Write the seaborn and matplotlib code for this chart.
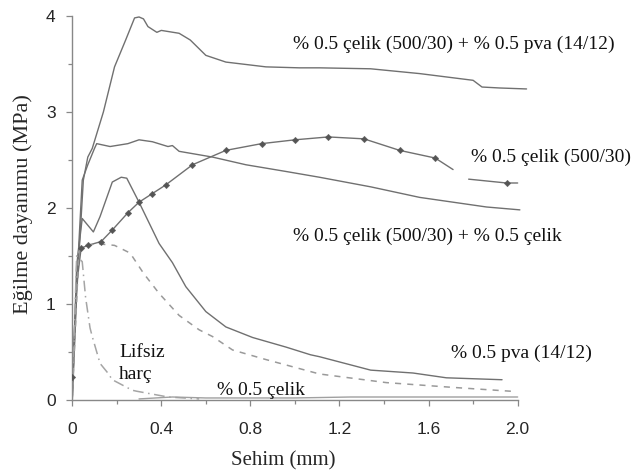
import matplotlib
matplotlib.use("Agg")
import matplotlib.pyplot as plt
import numpy as np
import pandas as pd
import seaborn as sns
from matplotlib.ticker import MultipleLocator

# --- curve data (x: Sehim mm, y: MPa) ---
pva_celik_x = [0.0, 0.02, 0.036, 0.05, 0.07, 0.09, 0.14, 0.19, 0.24, 0.28, 0.30, 0.32,
               0.34, 0.38, 0.40, 0.48, 0.53, 0.60, 0.69, 0.87, 1.02, 1.11, 1.34, 1.56,
               1.80, 1.84, 1.92, 2.04]
pva_celik_y = [0.0, 1.1, 1.74, 2.29, 2.53, 2.62, 3.0, 3.47, 3.75, 3.98, 3.99, 3.97,
               3.89, 3.83, 3.85, 3.82, 3.75, 3.59, 3.52, 3.47, 3.46, 3.46, 3.45, 3.40,
               3.33, 3.26, 3.25, 3.24]

celik500_x = [0.0, 0.02, 0.045, 0.07, 0.1, 0.11, 0.17, 0.25, 0.30, 0.36, 0.43, 0.45,
              0.48, 0.63, 0.78, 0.96, 1.11, 1.34, 1.56, 1.86, 2.01]
celik500_y = [0.0, 1.2, 2.29, 2.45, 2.62, 2.67, 2.64, 2.67, 2.71, 2.69, 2.64, 2.65,
              2.59, 2.53, 2.45, 2.38, 2.32, 2.22, 2.11, 2.01, 1.98]

# marked curve (line has a small gap near x = 1.75)
mark_line_x = [0.0, 0.02, 0.04, 0.07, 0.13, 0.18, 0.25, 0.30, 0.36, 0.42, 0.54, 0.69,
               0.85, 1.0, 1.15, 1.31, 1.47, 1.63, 1.71, 1.78, 1.95, 2.0]
mark_line_y = [0.24, 1.2, 1.58, 1.61, 1.65, 1.77, 1.95, 2.06, 2.15, 2.24, 2.45, 2.6,
               2.67, 2.71, 2.74, 2.72, 2.6, 2.52, 2.4, 2.30, 2.26, 2.26]
mark_line_seg = [0] * 19 + [1] * 3
mark_x = [0.0, 0.04, 0.07, 0.13, 0.18, 0.25, 0.30, 0.36, 0.42, 0.54, 0.69, 0.85, 1.0,
          1.15, 1.31, 1.47, 1.63, 1.95]
mark_y = [0.24, 1.58, 1.61, 1.65, 1.77, 1.95, 2.06, 2.15, 2.24, 2.45, 2.6, 2.67, 2.71,
          2.74, 2.72, 2.6, 2.52, 2.26]

pva_x = [0.0, 0.02, 0.045, 0.095, 0.125, 0.18, 0.22, 0.245, 0.30, 0.39, 0.45, 0.51,
         0.60, 0.69, 0.81, 0.96, 1.07, 1.11, 1.34, 1.53, 1.68, 1.93]
pva_y = [0.0, 1.4, 1.89, 1.75, 1.91, 2.27, 2.32, 2.31, 2.06, 1.63, 1.43, 1.18,
         0.92, 0.76, 0.65, 0.55, 0.47, 0.45, 0.31, 0.28, 0.23, 0.21]

celik_celik_x = [0.0, 0.03, 0.1, 0.19, 0.26, 0.32, 0.39, 0.48, 0.57, 0.63, 0.72, 0.87,
                 1.11, 1.41, 1.71, 1.97]
celik_celik_y = [0.0, 1.55, 1.63, 1.61, 1.53, 1.32, 1.11, 0.88, 0.73, 0.66, 0.52, 0.42,
                 0.27, 0.18, 0.13, 0.09]

lifsiz_x = [0.0, 0.02, 0.045, 0.06, 0.08, 0.09, 0.125, 0.16, 0.18, 0.27, 0.29, 0.43, 0.57]
lifsiz_y = [0.0, 1.5, 1.44, 1.07, 0.75, 0.66, 0.38, 0.28, 0.21, 0.10, 0.09, 0.03, 0.01]

celik_x = [0.30, 0.45, 0.60, 0.80, 1.0, 1.25, 1.5, 1.75, 2.0]
celik_y = [0.01, 0.03, 0.02, 0.02, 0.02, 0.03, 0.03, 0.03, 0.03]

x_ticks = [0, 0.4, 0.8, 1.2, 1.6, 2.0]
x_tick_labels = ["0", "0.4", "0.8", "1.2", "1.6", "2.0"]
y_ticks = [0, 1, 2, 3, 4]

sns.set_style("white")
plt.rcParams["font.family"] = ["Liberation Serif", "DejaVu Serif"]

fig = plt.figure(figsize=(6.39, 4.71), dpi=100)
ax = fig.add_axes([0.113, 0.151, 0.718, 0.815])

line_col = "#707070"
dash_col = "#9a9a9a"

sns.lineplot(x=pva_celik_x, y=pva_celik_y, ax=ax, color=line_col, lw=1.0, sort=False)
sns.lineplot(x=celik500_x, y=celik500_y, ax=ax, color=line_col, lw=1.0, sort=False)
mark_df = pd.DataFrame({"x": mark_line_x, "y": mark_line_y, "seg": mark_line_seg})
sns.lineplot(data=mark_df, x="x", y="y", units="seg", estimator=None, ax=ax,
             color=line_col, lw=1.0, sort=False)
sns.scatterplot(x=mark_x, y=mark_y, ax=ax, color="#555555", marker="D", s=11,
                edgecolor="#555555", zorder=3)
sns.lineplot(x=pva_x, y=pva_y, ax=ax, color=line_col, lw=1.0, sort=False)
sns.lineplot(x=celik_celik_x, y=celik_celik_y, ax=ax, color=dash_col, lw=1.1,
             sort=False, linestyle=(0, (4, 4)))
sns.lineplot(x=lifsiz_x, y=lifsiz_y, ax=ax, color="#a5a5a5", lw=1.1, sort=False,
             linestyle=(0, (7, 3, 1, 3)))
sns.lineplot(x=celik_x, y=celik_y, ax=ax, color="#a0a0a0", lw=1.0, sort=False)

ax.set_xlim(0, 2.06)
ax.set_ylim(0, 4)
ax.set_xticks(x_ticks)
ax.set_xticklabels(x_tick_labels)
ax.set_yticks(y_ticks)
ax.xaxis.set_minor_locator(MultipleLocator(0.2))
ax.yaxis.set_minor_locator(MultipleLocator(0.5))
for lab in ax.get_xticklabels() + ax.get_yticklabels():
    lab.set_family(["Liberation Sans", "DejaVu Sans"])
    lab.set_fontsize(12.5)
ax.tick_params(which="both", direction="out", length=4, width=0.9, color="#888888",
               bottom=True, left=True, pad=8)
ax.tick_params(axis="x", which="major", pad=12)
ax.tick_params(which="minor", length=3)

for side in ["top", "right"]:
    ax.spines[side].set_visible(False)
for side in ["left", "bottom"]:
    ax.spines[side].set_color("#888888")
    ax.spines[side].set_linewidth(1.0)
ax.spines["bottom"].set_bounds(0, 2.0)

ax.set_xlabel("Sehim (mm)", fontsize=15)
ax.xaxis.set_label_coords(0.46, -0.133)
ax.set_ylabel("Eğilme dayanımu (MPa)", fontsize=16)
ax.yaxis.set_label_coords(-0.085, 0.51)

txt = dict(fontsize=14, color="#111111", va="center", ha="left")
ax.text(0.99, 3.70, "% 0.5 çelik (500/30) + % 0.5 pva (14/12)", **txt)
ax.text(1.79, 2.53, "% 0.5 çelik (500/30)", **txt)
ax.text(0.99, 1.70, "% 0.5 çelik (500/30) + % 0.5 çelik", **txt)
ax.text(1.70, 0.49, "% 0.5 pva (14/12)", **txt)
ax.text(0.21, 0.49, "Lifsiz", **txt)
ax.text(0.21, 0.26, "harç", **txt)
ax.text(0.65, 0.10, "% 0.5 çelik", **txt)

fig.savefig("out.png", dpi=100)
plt.close(fig)
